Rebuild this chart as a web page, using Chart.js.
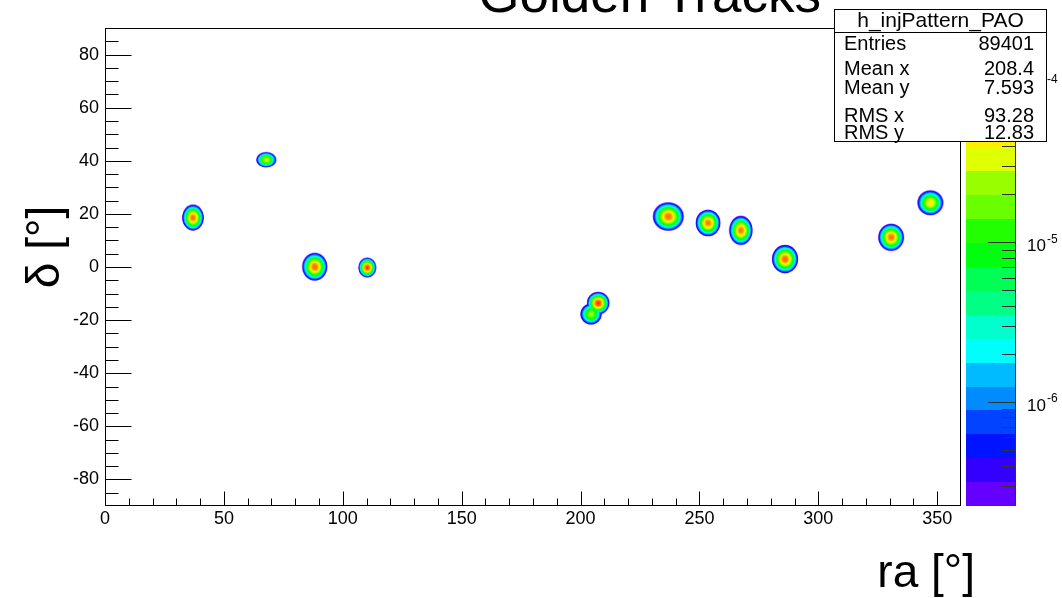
<!DOCTYPE html>
<html>
<head>
<meta charset="utf-8">
<title>h_injPattern_PAO</title>
<script src="https://cdn.jsdelivr.net/npm/chart.js@4.4.1/dist/chart.umd.min.js"></script>
<style>
  html, body { margin: 0; padding: 0; background: #fff; }
  canvas { display: block; }
</style>
</head>
<body>
<canvas id="injChart" width="1062" height="598"></canvas>
<script>
// injected sources: centre (ra, dec), full extent in degrees, peak density
var srcRa     = [37.0, 67.8, 88.2, 110.3, 204.4, 207.4, 236.9, 253.6, 267.4, 286.0, 330.6, 347.1];
var srcDec    = [18.6, 40.4, 0.1, -0.2, -17.7, -13.6, 19.0, 16.6, 13.8, 3.0, 11.2, 24.2];
var srcWidth  = [9.1, 8.4, 10.5, 7.4, 9.0, 9.4, 12.9, 10.4, 9.8, 11.0, 10.8, 10.8];
var srcHeight = [9.7, 5.7, 10.4, 7.4, 8.0, 8.4, 10.6, 10.0, 10.9, 10.7, 10.2, 9.3];
var srcPeak   = [1.0e-4, 3.4e-5, 1.05e-4, 1.4e-4, 2.6e-5, 1.4e-4, 1.0e-4, 9.5e-5, 9.5e-5, 1.05e-4, 1.0e-4, 5.0e-5];

var xTicks = [0, 50, 100, 150, 200, 250, 300, 350];
var yTicks = [-80, -60, -40, -20, 0, 20, 40, 60, 80];
var zTicks = [1e-6, 1e-5, 1e-4];
var zMin = 2.234e-7, zMax = 2.19e-4;

var statName   = 'h_injPattern_PAO';
var statLabels = ['Entries', 'Mean x', 'Mean y', 'RMS x', 'RMS y'];
var statValues = ['89401', '208.4', '7.593', '93.28', '12.83'];

var titleText = 'Golden Tracks';
var xTitle = 'ra [°]';
var yTitle = 'δ [°]';

// 20 contour colours, violet -> red
var palette = ['#6300ff', '#3300ff', '#0014ff', '#0044ff', '#008bff', '#00bbff', '#00fffc',
               '#00ffcc', '#00ff85', '#00ff55', '#00ff0e', '#22ff00', '#69ff00', '#99ff00',
               '#e0ff00', '#ffee00', '#ffa700', '#ff7700', '#ff3000', '#ff0000'];

var FONT = '"Liberation Sans", Arial, Helvetica, sans-serif';

// size of one contour band around a source, in pixels
function ringShape(ctx, band) {
    var p = ctx.raw;
    if (!p || p.src === undefined) return null;
    var ch = ctx.chart, xs = ch.scales.x, ys = ch.scales.y, zs = ch.scales.z;
    var lo = zs.getValueForPixel(zs.getPixelForDecimal(band / palette.length));
    var peak = srcPeak[p.src];
    if (!(peak > lo)) return null;
    var f = Math.pow(Math.log(peak / lo) / Math.log(peak / zMin), 0.55);
    var hw = Math.abs(xs.getPixelForValue(p.x + srcWidth[p.src] / 2) - xs.getPixelForValue(p.x));
    var hh = Math.abs(ys.getPixelForValue(p.y + srcHeight[p.src] / 2) - ys.getPixelForValue(p.y));
    return {rx: f * hw, ry: f * hh};
}

function ringImage(ctx, band) {
    var r = ringShape(ctx, band);
    if (!r) return 'circle';
    var cv = document.createElement('canvas');
    var w = 2 * Math.ceil(r.rx) + 2, h = 2 * Math.ceil(r.ry) + 2;
    cv.width = w; cv.height = h;
    var g = cv.getContext('2d');
    g.fillStyle = palette[band];
    g.beginPath();
    g.ellipse(w / 2, h / 2, r.rx, r.ry, 0, 0, 2 * Math.PI);
    g.fill();
    return cv;
}

// one dataset per contour band, outer bands underneath
var datasets = palette.map(function(color, band) {
    return {
        label: 'band ' + band,
        xAxisID: 'x',
        yAxisID: 'y',
        order: palette.length - band,
        data: srcRa.map(function(ra, i) { return {x: ra, y: srcDec[i], src: i}; }),
        pointRadius: function(ctx) { return ringShape(ctx, band) ? 3 : 0; },
        pointStyle: function(ctx) { return ringImage(ctx, band); },
        pointBorderWidth: 0,
        pointBackgroundColor: color
    };
});

function txt(c, s, x, y, size, align, base) {
    c.font = size + 'px ' + FONT;
    c.textAlign = align || 'left';
    c.textBaseline = base || 'alphabetic';
    c.fillText(s, x, y);
}

// frame, inward ticks, palette axis, titles and stats box
var rootDecor = {
    id: 'rootDecor',
    afterDraw: function(chart) {
        var c = chart.ctx, a = chart.chartArea;
        var xs = chart.scales.x, ys = chart.scales.y, zs = chart.scales.z;
        var L = Math.round(a.left) + 0.5, R = Math.round(a.right) - 0.5;
        var T = Math.round(a.top) + 0.5, B = Math.round(a.bottom) - 0.5;
        var v, len;

        c.save();
        c.strokeStyle = '#000';
        c.lineWidth = 1;
        c.strokeRect(L, T, R - L, B - T);
        c.beginPath();
        for (v = xs.min + 10; v < xs.max; v += 10) {
            var px = Math.round(xs.getPixelForValue(v)) + 0.5;
            len = (v % 50 === 0) ? 14 : 7;
            c.moveTo(px, B); c.lineTo(px, B - len);
        }
        for (v = ys.min + 5; v < ys.max; v += 5) {
            var py = Math.round(ys.getPixelForValue(v)) + 0.5;
            len = (v % 20 === 0) ? 26 : 13;
            c.moveTo(L, py); c.lineTo(L + len, py);
        }
        c.stroke();

        // colour palette
        var n = palette.length;
        var cbL = Math.round(a.right) + 5, cbR = Math.round(a.right) + 54;
        for (var b = 0; b < n; b++) {
            var y0 = Math.round(zs.getPixelForDecimal(b / n));
            var y1 = Math.round(zs.getPixelForDecimal((b + 1) / n));
            c.fillStyle = palette[b];
            c.fillRect(cbL, y1, cbR - cbL, y0 - y1);
        }
        c.strokeStyle = '#333';
        c.beginPath();
        c.moveTo(cbR + 0.5, Math.round(zs.top)); c.lineTo(cbR + 0.5, Math.round(zs.bottom));
        var e0 = Math.floor(Math.log10(zMin)), e1 = Math.ceil(Math.log10(zMax));
        for (var e = e0; e <= e1; e++) {
            for (var m = 1; m < 10; m++) {
                var zv = m * Math.pow(10, e);
                if (zv < zMin || zv > zMax) continue;
                var zy = Math.round(zs.getPixelForValue(zv)) + 0.5;
                c.moveTo(cbR, zy); c.lineTo(cbR - (m === 1 ? 27 : 13), zy);
            }
        }
        c.stroke();

        c.fillStyle = '#000';
        zTicks.forEach(function(z) {
            var zy = zs.getPixelForValue(z);
            txt(c, '10', cbR + 12, zy + 4, 17, 'left', 'middle');
            var w = c.measureText('10').width;
            txt(c, String(Math.round(Math.log10(z))), cbR + 13 + w, zy - 3, 12, 'left', 'middle');
        });

        // titles
        txt(c, titleText, 821, 12, 53, 'right', 'alphabetic');
        txt(c, xTitle, 975, 587, 46, 'right', 'alphabetic');
        c.save();
        c.translate(46, 247);
        c.rotate(-Math.PI / 2);
        txt(c, yTitle, 0, 0, 46, 'center', 'middle');
        c.restore();

        // stats box
        var bx = 834.5, by = 9.5, bw = 212, bh = 132;
        c.fillStyle = '#fff';
        c.fillRect(bx, by, bw, bh);
        c.strokeStyle = '#000';
        c.strokeRect(bx, by, bw, bh);
        c.beginPath(); c.moveTo(bx, 32.5); c.lineTo(bx + bw, 32.5); c.stroke();
        c.fillStyle = '#000';
        txt(c, statName, bx + bw / 2, 21, 21, 'center', 'middle');
        var rowY = [44, 69, 88, 116, 133];
        statLabels.forEach(function(s, i) {
            txt(c, s, 844, rowY[i], 20, 'left', 'middle');
            txt(c, statValues[i], 1034, rowY[i], 20, 'right', 'middle');
        });
        c.restore();
    }
};

var injChart = new Chart(document.getElementById('injChart').getContext('2d'), {
    type: 'scatter',
    data: { datasets: datasets },
    plugins: [rootDecor],
    options: {
        responsive: false,
        animation: false,
        events: [],
        layout: { padding: { top: 28, left: 0, right: 0, bottom: 0 } },
        plugins: {
            legend: { display: false },
            tooltip: { enabled: false },
            title: { display: false }
        },
        scales: {
            x: {
                type: 'linear', position: 'bottom', min: 0, max: 360, bounds: 'data',
                grid: { display: false, drawTicks: false },
                border: { display: false },
                ticks: { font: { family: FONT, size: 18 }, color: '#000', padding: 2, autoSkip: false, maxRotation: 0 },
                afterBuildTicks: function(s) { s.ticks = xTicks.map(function(v) { return {value: v}; }); },
                afterFit: function(s) { s.height = 92; }
            },
            y: {
                type: 'linear', position: 'left', min: -90, max: 90, bounds: 'data',
                grid: { display: false, drawTicks: false },
                border: { display: false },
                ticks: { font: { family: FONT, size: 18 }, color: '#000', padding: 6, autoSkip: false },
                afterBuildTicks: function(s) { s.ticks = yTicks.map(function(v) { return {value: v}; }); },
                afterFit: function(s) { s.width = 105; }
            },
            z: {
                type: 'logarithmic', axis: 'y', position: 'right', min: zMin, max: zMax, bounds: 'data',
                grid: { display: false, drawTicks: false },
                border: { display: false },
                ticks: { display: false },
                afterFit: function(s) { s.width = 101; }
            }
        }
    }
});
</script>
</body>
</html>
